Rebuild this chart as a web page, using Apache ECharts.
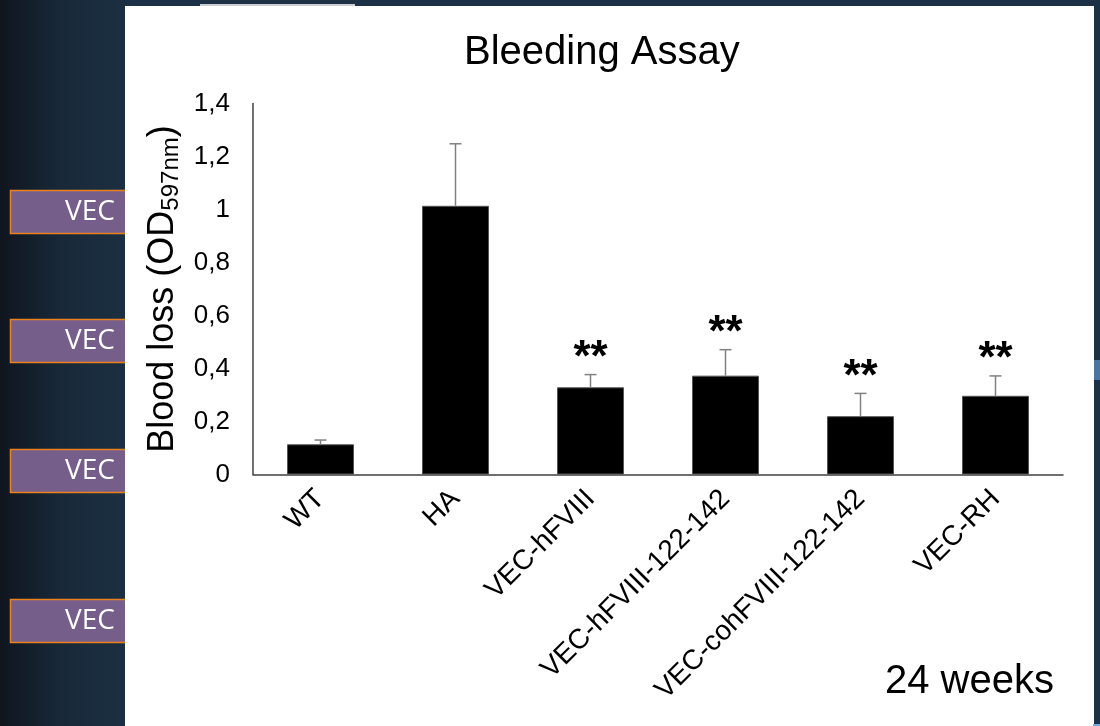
<!DOCTYPE html>
<html>
<head>
<meta charset="utf-8">
<script src="https://cdn.jsdelivr.net/npm/echarts@6/dist/echarts.min.js"></script>
<style>
html,body{margin:0;padding:0;background:#1d3146;}
#chart{width:1100px;height:726px;}
</style>
</head>
<body>
<div id="chart"></div>
<script>
// ---- data ----
const categories = ['WT', 'HA', 'VEC-hFVIII', 'VEC-hFVIII-122-142', 'VEC-cohFVIII-122-142', 'VEC-RH'];
const bloodLoss = [0.114, 1.014, 0.329, 0.373, 0.220, 0.297];
const errorUp = [0.016, 0.234, 0.048, 0.098, 0.086, 0.075];
const significance = ['', '', '**', '**', '**', '**'];
const yTickLabels = ['0', '0,2', '0,4', '0,6', '0,8', '1', '1,2', '1,4'];
const sideLabels = ['VEC', 'VEC', 'VEC', 'VEC'];

const FONT = '"Liberation Sans", Arial, sans-serif';
const chart = echarts.init(document.getElementById('chart'), null, {renderer: 'canvas'});

const errData = categories.map((c, i) => [i, bloodLoss[i], bloodLoss[i] + errorUp[i]]);

const sideBoxTops = [190, 319, 449, 599];
const graphics = [
  {type: 'rect', z: -10, shape: {x: 0, y: 0, width: 1100, height: 726}, style: {fill: '#1d3146'}},
  {type: 'rect', z: -9, shape: {x: 0, y: 0, width: 130, height: 726},
   style: {fill: new echarts.graphic.LinearGradient(0, 0, 1, 0, [
     {offset: 0, color: '#10161f'}, {offset: 0.15, color: '#121b27'},
     {offset: 0.45, color: '#182839'}, {offset: 1, color: '#1c3042'}])}},
];
sideLabels.forEach((t, i) => {
  graphics.push({type: 'rect', z: -8, shape: {x: 10.5, y: sideBoxTops[i] + 0.5, width: 130, height: 43},
    style: {fill: '#765e8b', stroke: '#e9821e', lineWidth: 1.5}});
  graphics.push({type: 'text', z: -7, x: 115, y: sideBoxTops[i] + 22,
    style: {text: t, fill: '#ffffff', font: '28px "Open Sans", sans-serif', textAlign: 'right', textVerticalAlign: 'middle'}});
});
graphics.push(
  {type: 'rect', z: -6, shape: {x: 125, y: 6, width: 969, height: 720}, style: {fill: '#ffffff'}},
  {type: 'rect', z: -6, shape: {x: 200, y: 4, width: 155, height: 2}, style: {fill: '#c9cdd2'}},
  {type: 'rect', z: -6, shape: {x: 1094, y: 360, width: 6, height: 20}, style: {fill: '#4d74a0'}},
  {type: 'rect', z: -6, shape: {x: 1093, y: 724, width: 7, height: 2}, style: {fill: '#7aa7d9'}},
  {type: 'text', x: 885, y: 682, style: {text: '24 weeks', fill: '#000', font: '40px ' + FONT, textVerticalAlign: 'middle'}}
);

const option = {
  animation: false,
  backgroundColor: 'transparent',
  title: {
    text: 'Bleeding Assay', left: 459, top: 28,
    textStyle: {fontFamily: FONT, fontSize: 40, fontWeight: 'normal', color: '#000'}
  },
  graphic: graphics,
  grid: {left: 253, right: 37, top: 103.5, bottom: 251.5},
  xAxis: {
    type: 'category', data: categories,
    axisLine: {lineStyle: {color: '#404040', width: 1.5}},
    axisTick: {show: false},
    axisLabel: {rotate: 45, margin: 20, fontFamily: FONT, fontSize: 28, color: '#000', interval: 0}
  },
  yAxis: {
    type: 'value', min: 0, max: 1.4, interval: 0.2,
    splitLine: {show: false},
    axisLine: {show: true, lineStyle: {color: '#404040', width: 1.5}},
    axisTick: {show: false},
    axisLabel: {margin: 23, fontFamily: FONT, fontSize: 26, color: '#000',
      formatter: v => yTickLabels[Math.round(v / 0.2)]},
    name: 'Blood loss (OD{sub|597nm})',
    nameLocation: 'middle', nameRotate: 90, nameGap: 70,
    nameTextStyle: {fontFamily: FONT, fontSize: 36, color: '#000', lineHeight: 40,
      rich: {sub: {fontFamily: FONT, fontSize: 24, color: '#000', lineHeight: 24, verticalAlign: 'bottom'}}}
  },
  series: [
    {
      type: 'bar', data: bloodLoss, barWidth: 67,
      itemStyle: {color: '#000', borderColor: '#555', borderWidth: 1}
    },
    {
      type: 'custom', data: errData, z: 5,
      renderItem: (params, api) => {
        const i = api.value(0);
        const base = api.coord([i, api.value(1)]);
        const top = api.coord([i, api.value(2)]);
        const children = [
          {type: 'line', shape: {x1: base[0], y1: base[1], x2: top[0], y2: top[1]},
           style: {stroke: '#808080', lineWidth: 1.5}},
          {type: 'line', shape: {x1: top[0] - 6, y1: top[1], x2: top[0] + 6, y2: top[1]},
           style: {stroke: '#808080', lineWidth: 1.5}}
        ];
        const s = significance[params.dataIndex];
        if (s) {
          children.push({type: 'text', x: top[0], y: top[1] + 6,
            style: {text: s, fill: '#000', font: 'bold 44px ' + FONT, textAlign: 'center', textVerticalAlign: 'bottom'}});
        }
        return {type: 'group', children};
      }
    }
  ]
};
chart.setOption(option);
</script>
</body>
</html>
